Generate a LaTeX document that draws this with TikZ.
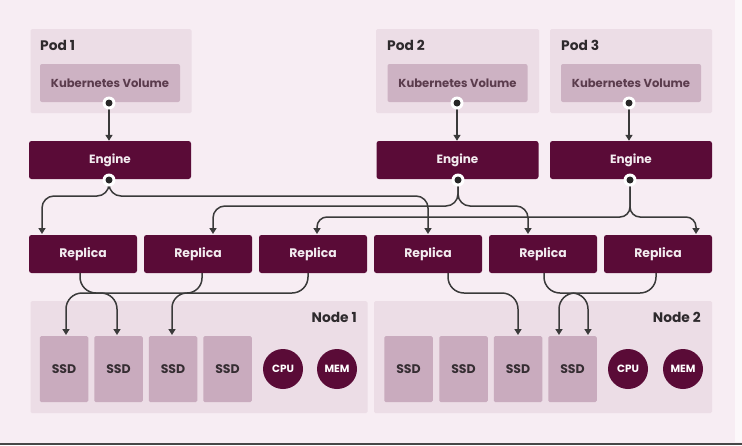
\documentclass[tikz,border=0pt]{standalone}
\usepackage{fontspec}
\setmainfont{Poppins}
\usetikzlibrary{arrows.meta}
\definecolor{bg}{HTML}{F7EDF3}
\definecolor{podbg}{HTML}{ECDDE6}
\definecolor{kvbg}{HTML}{CDB2C3}
\definecolor{ssdbg}{HTML}{C9ABBE}
\definecolor{maroon}{HTML}{5A0B37}
\definecolor{txtdark}{HTML}{2E2A2D}
\definecolor{kvtxt}{HTML}{5B3C4D}
\definecolor{wire}{HTML}{3A3A3A}
\tikzset{
  podbox/.style={fill=podbg, draw=none, rounded corners=1.5pt, inner sep=0pt},
  kvbox/.style={fill=kvbg, draw=none, rounded corners=2pt, inner sep=0pt, minimum width=140pt, minimum height=38pt, text=kvtxt, font=\fontsize{11.6}{13}\selectfont\bfseries},
  engbox/.style={fill=maroon, draw=none, rounded corners=2.5pt, inner sep=0pt, minimum width=162pt, minimum height=38pt, text=white!92!maroon, font=\fontsize{12}{14}\selectfont\bfseries},
  repbox/.style={fill=maroon, draw=none, rounded corners=2.5pt, inner sep=0pt, minimum width=108pt, minimum height=38pt, text=white!92!maroon, font=\fontsize{12.4}{14}\selectfont\bfseries},
  ssdbox/.style={fill=ssdbg, draw=none, rounded corners=1.5pt, inner sep=0pt, minimum width=48.5pt, minimum height=66pt, text=txtdark!85!kvtxt, font=\fontsize{12.5}{14}\selectfont\bfseries},
  rescirc/.style={circle, fill=maroon, draw=none, inner sep=0pt, minimum size=40pt, text=white, font=\fontsize{10.5}{12}\selectfont\bfseries},
  lbl/.style={text=txtdark, font=\fontsize{13.8}{15}\selectfont\bfseries, inner sep=0pt},
  wirestyle/.style={draw=wire, line width=1.5pt, rounded corners=13pt, -{Triangle[width=7pt,length=6pt]}},
  plainwire/.style={draw=wire, line width=1.5pt},
}
\begin{document}
\begin{tikzpicture}[x=1pt,y=-1pt]
\useasboundingbox (0,0) rectangle (742,445);
\fill[bg] (0,0) rectangle (742,445);
\fill[white!60!bg] (735,0) rectangle (742,442);
\fill[black!72] (0,442.5) rectangle (742,445);

% pods
\node[podbox, minimum width=161pt, minimum height=84pt] (pod1) at (111,71) {};
\node[podbox, minimum width=163pt, minimum height=84pt] (pod2) at (457.5,71) {};
\node[podbox, minimum width=162pt, minimum height=84pt] (pod3) at (631,71) {};
\node[lbl, anchor=west] (pod1l) at (40,45) {Pod 1};
\node[lbl, anchor=west] (pod2l) at (387,45) {Pod 2};
\node[lbl, anchor=west] (pod3l) at (561,45) {Pod 3};

\node[kvbox] (kv1) at (110,83) {Kubernetes Volume};
\node[kvbox] (kv2) at (457.5,83) {Kubernetes Volume};
\node[kvbox] (kv3) at (631,83) {Kubernetes Volume};

% engines
\node[engbox] (e1) at (110,160) {Engine};
\node[engbox] (e2) at (457.5,160) {Engine};
\node[engbox] (e3) at (631,160) {Engine};

% replicas
\node[repbox] (r1) at (83,254) {Replica};
\node[repbox] (r2) at (198,254) {Replica};
\node[repbox] (r3) at (313,254) {Replica};
\node[repbox] (r4) at (428,254) {Replica};
\node[repbox] (r5) at (543,254) {Replica};
\node[repbox] (r6) at (658,254) {Replica};

% nodes
\node[podbox, minimum width=337pt, minimum height=112pt] (n1) at (199,357) {};
\node[podbox, minimum width=338pt, minimum height=112pt] (n2) at (543,357) {};
\node[lbl, anchor=east] (n1l) at (357,317) {Node 1};
\node[lbl, anchor=east] (n2l) at (701,317) {Node 2};

\node[ssdbox] (s11) at (64,369) {SSD};
\node[ssdbox] (s12) at (118.5,369) {SSD};
\node[ssdbox] (s13) at (173,369) {SSD};
\node[ssdbox] (s14) at (227.5,369) {SSD};
\node[rescirc] (cpu1) at (283,369) {CPU};
\node[rescirc] (mem1) at (337,369) {MEM};

\node[ssdbox] (s21) at (408.5,369) {SSD};
\node[ssdbox] (s22) at (463.5,369) {SSD};
\node[ssdbox] (s23) at (518,369) {SSD};
\node[ssdbox] (s24) at (572.5,369) {SSD};
\node[rescirc] (cpu2) at (628,369) {CPU};
\node[rescirc] (mem2) at (683,369) {MEM};

% dots
\foreach \p/\x/\y in {k1/109/103, k2/457/103, k3/629/103, d1/109/180, d2/458/180, d3/630/180} {
  \coordinate (\p) at (\x,\y);
}

% pod -> engine
\draw[plainwire, -{Triangle[width=7pt,length=6pt]}] (k1) -- (k1 |- e1.north);
\draw[plainwire, -{Triangle[width=7pt,length=6pt]}] (k2) -- (k2 |- e2.north);
\draw[plainwire, -{Triangle[width=7pt,length=6pt]}] (k3) -- (k3 |- e3.north);

% engine -> replicas
\draw[wirestyle, rounded corners=12pt] (d1) -- (109,196) -- (42,196) -- (42,234);
\draw[wirestyle, rounded corners=12pt] (d1) -- (109,196) -- (428,196) -- (428,234);
\draw[wirestyle, rounded corners=12pt] (d2) -- (458,206) -- (213,206) -- (213,234);
\draw[wirestyle, rounded corners=12pt] (d2) -- (458,206) -- (528,206) -- (528,234);
\draw[wirestyle, rounded corners=10pt] (d3) -- (630,217) -- (317,217) -- (317,234);
\draw[wirestyle, rounded corners=10pt] (d3) -- (630,217) -- (696,217) -- (696,234);

% replicas -> ssd
\draw[wirestyle, rounded corners=16pt] (r1.south -| 80,0) -- (80,293) -- (117,293) -- (117,335);
\draw[wirestyle, rounded corners=15pt] (r2.south -| 202,0) -- (202,293) -- (172,293) -- (172,335);
\draw[wirestyle, rounded corners=16pt] (r3.south -| 308,0) -- (308,293) -- (66,293) -- (66,335);
\draw[wirestyle, rounded corners=16pt] (r4.south -| 448,0) -- (448,293) -- (518,293) -- (518,335);
\draw[wirestyle, rounded corners=16pt] (r5.south -| 544,0) -- (544,293) -- (588,293) -- (588,335);
\draw[wirestyle, rounded corners=16pt] (r6.south -| 656,0) -- (656,293) -- (559,293) -- (559,335);

% connector dots on top
\foreach \p in {k1,k2,k3,d1,d2,d3} {
  \fill[white] (\p) circle (6.5pt);
  \fill[black!85] (\p) circle (3.5pt);
}
\end{tikzpicture}
\end{document}
